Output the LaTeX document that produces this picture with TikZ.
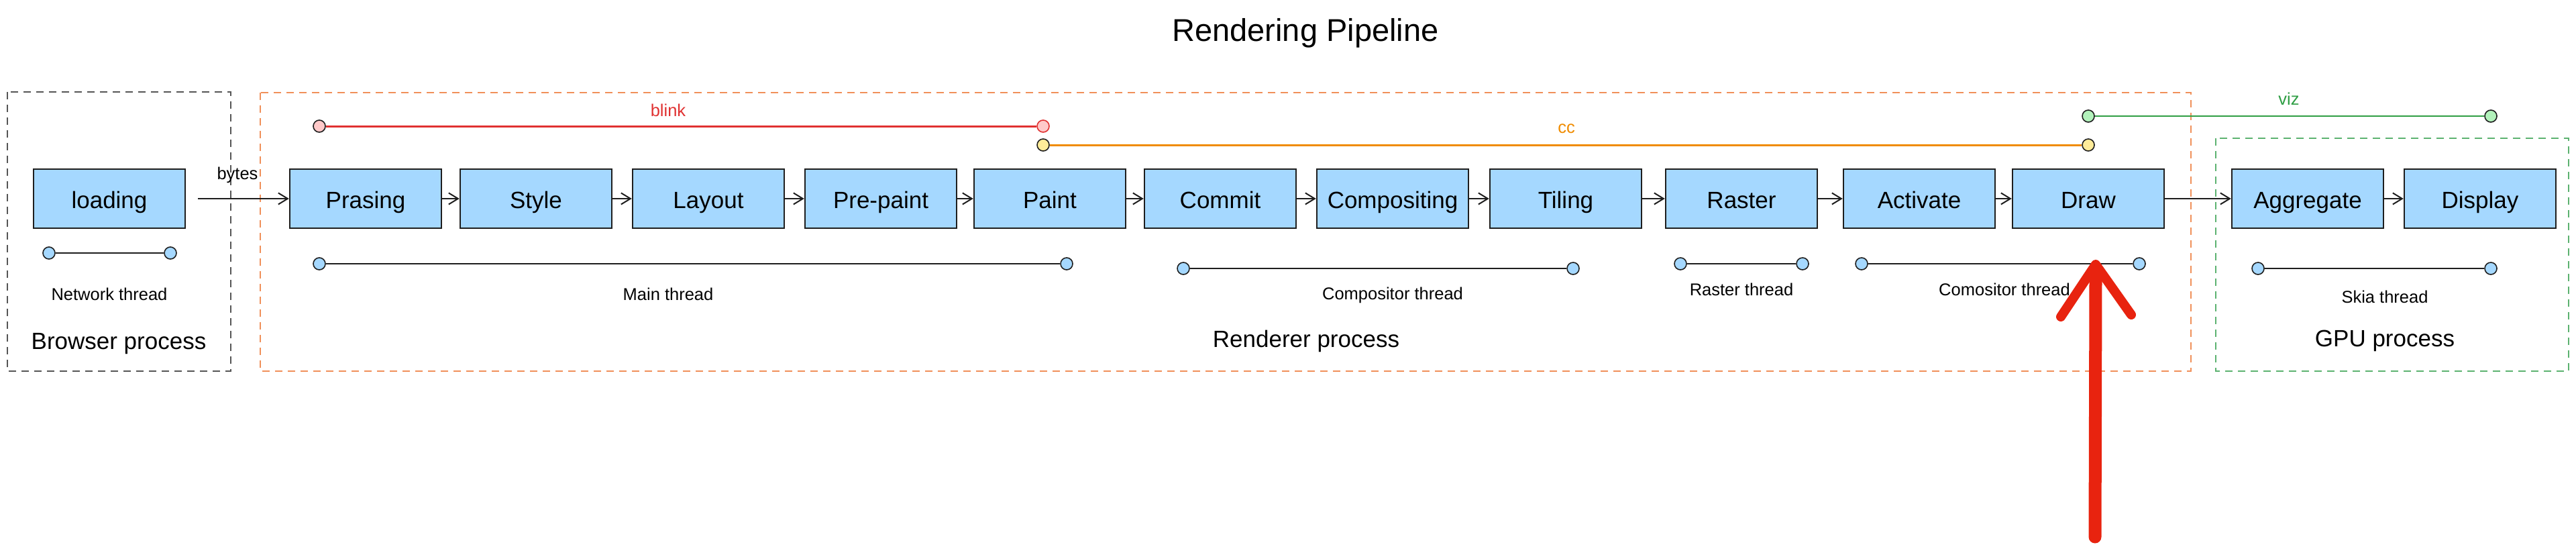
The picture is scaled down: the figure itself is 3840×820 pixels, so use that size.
\documentclass[tikz,border=0pt]{standalone}
\usepackage{fontspec}
\setmainfont{Liberation Sans}
\usetikzlibrary{arrows.meta,calc}
\definecolor{boxfill}{HTML}{A5D8FF}
\definecolor{ink}{HTML}{1E1E1E}
\definecolor{blinkred}{HTML}{E03131}
\definecolor{pinkfill}{HTML}{FFC9C9}
\definecolor{ccorange}{HTML}{F08C00}
\definecolor{yellowfill}{HTML}{FFEC99}
\definecolor{vizgreen}{HTML}{2F9E44}
\definecolor{greenfill}{HTML}{B2F2BB}
\definecolor{rendline}{HTML}{F0905A}
\definecolor{gpuline}{HTML}{5CB270}
\definecolor{browline}{HTML}{555555}
\definecolor{scribble}{HTML}{E8230F}
\tikzset{
  stage/.style={draw=ink, line width=2.5pt, fill=boxfill, minimum width=226pt, minimum height=88pt, inner sep=0pt, text height=34pt, text depth=6pt, font=\fontsize{35}{40}\selectfont},
  dot/.style={circle, draw=ink, line width=1.6pt, fill=boxfill, minimum size=18pt, inner sep=0pt},
  pinkdot/.style={dot, fill=pinkfill},
  yellowdot/.style={dot, fill=yellowfill},
  greendot/.style={dot, fill=greenfill},
  thread/.style={draw=ink, line width=2.8pt},
  lbl/.style={font=\fontsize{25.5}{30}\selectfont, inner sep=0pt},
  proclbl/.style={font=\fontsize{35}{40}\selectfont, inner sep=0pt},
  procbox/.style={dash pattern=on 11pt off 8pt, line width=2pt},
  arr/.style={draw=ink, line width=2pt, -{Straight Barb[length=14pt,width=17pt,line width=2pt]}},
}
\begin{document}
\begin{tikzpicture}[x=1pt, y=-1pt]
\useasboundingbox (0,0) rectangle (3840,820);
\fill[white] (0,0) rectangle (3840,820);

% title
\node[font=\fontsize{47}{54}\selectfont, inner sep=0pt] (title) at (1946,49) {Rendering Pipeline};

% process boxes
\draw[procbox, draw=browline] (11,137) rectangle (344,553);
\draw[procbox, draw=rendline] (388,138) rectangle (3266,553);
\draw[procbox, draw=gpuline] (3303,206) rectangle (3829,553);
\node[proclbl] (browser) at (177,512) {Browser process};
\node[proclbl] (renderer) at (1947,508) {Renderer process};
\node[proclbl] (gpu) at (3555,508) {GPU process};

% stages
\node[stage] (loading) at (163,296) {loading};
\node[stage] (prasing) at (545,296) {Prasing};
\node[stage] (style) at (799,296) {Style};
\node[stage] (layout) at (1056,296) {Layout};
\node[stage] (prepaint) at (1313,296) {Pre-paint};
\node[stage] (paint) at (1565,296) {Paint};
\node[stage] (commit) at (1819,296) {Commit};
\node[stage] (compositing) at (2076,296) {Compositing};
\node[stage] (tiling) at (2334,296) {Tiling};
\node[stage] (raster) at (2596,296) {Raster};
\node[stage] (activate) at (2861,296) {Activate};
\node[stage] (drawst) at (3113,296) {Draw};
\node[stage] (aggregate) at (3440,296) {Aggregate};
\node[stage] (display) at (3697,296) {Display};

% connectors
\draw[arr, shorten <=18pt] (loading.east) -- node[lbl, midway, above=22pt] (bytes) {bytes} (prasing.west);
\draw[arr] (prasing) -- (style);
\draw[arr] (style) -- (layout);
\draw[arr] (layout) -- (prepaint);
\draw[arr] (prepaint) -- (paint);
\draw[arr] (paint) -- (commit);
\draw[arr] (commit) -- (compositing);
\draw[arr] (compositing) -- (tiling);
\draw[arr] (tiling) -- (raster);
\draw[arr] (raster) -- (activate);
\draw[arr] (activate) -- (drawst);
\draw[arr] (drawst) -- (aggregate);
\draw[arr] (aggregate) -- (display);

% module lines
\node[pinkdot] (b1) at (476,188) {};
\node[pinkdot, draw=blinkred] (b2) at (1555,188) {};
\draw[draw=blinkred, line width=3pt] (b1) -- (b2);
\node[lbl, text=blinkred] (blink) at (996,164) {blink};

\node[yellowdot] (c1) at (1555,216) {};
\node[yellowdot] (c2) at (3113,216) {};
\draw[draw=ccorange, line width=3pt] (c1) -- (c2);
\node[lbl, text=ccorange] (cc) at (2335,192) {cc};

\node[greendot] (v1) at (3113,173) {};
\node[greendot] (v2) at (3713,173) {};
\draw[draw=vizgreen, line width=2.5pt] (v1) -- (v2);
\node[lbl, text=vizgreen] (viz) at (3412,147) {viz};

% threads
\node[dot] (n1) at (73,377) {};
\node[dot] (n2) at (254,377) {};
\draw[thread] (n1) -- (n2);
\node[lbl] (netl) at (163,438) {Network thread};

\node[dot] (m1) at (476,393) {};
\node[dot] (m2) at (1590,393) {};
\draw[thread] (m1) -- (m2);
\node[lbl] (mainl) at (996,438) {Main thread};

\node[dot] (k1) at (1764,400) {};
\node[dot] (k2) at (2345,400) {};
\draw[thread] (k1) -- (k2);
\node[lbl] (compl) at (2076,440) {Compositor thread};

\node[dot] (r1) at (2505,393) {};
\node[dot] (r2) at (2687,393) {};
\draw[thread] (r1) -- (r2);
\node[lbl] (rastl) at (2596,431) {Raster thread};

\node[dot] (q1) at (2775,393) {};
\node[dot] (q2) at (3189,393) {};
\draw[thread] (q1) -- (q2);
\node[lbl] (comol) at (2988,431) {Comositor thread};

\node[dot] (s1) at (3366,400) {};
\node[dot] (s2) at (3713,400) {};
\draw[thread] (s1) -- (s2);
\node[lbl] (skial) at (3555,442) {Skia thread};

% red hand-drawn arrow
\coordinate (rtail) at (3123,800);
\coordinate (rtip) at (3124,394);
\coordinate (rwl) at (3072,472);
\coordinate (rwr) at (3177,469);
\draw[draw=scribble, line width=19pt, line cap=round] (rtail) -- ($(rtip)+(0,14)$);
\draw[draw=scribble, line width=14pt, line cap=round, line join=round] (rwl) -- (rtip) -- (rwr);
\end{tikzpicture}
\end{document}
